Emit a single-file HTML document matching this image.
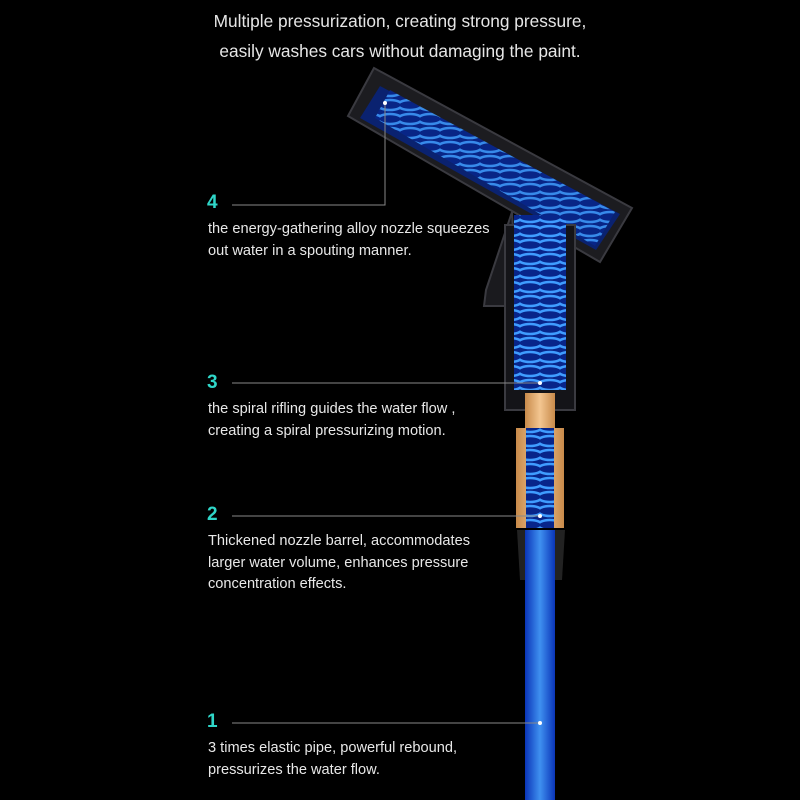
<!DOCTYPE html>
<html><head><style>
body{margin:0;background:#000;width:800px;height:800px;overflow:hidden;position:relative;font-family:"Liberation Sans",sans-serif;color:#eee}
.t{position:absolute;font-size:14.6px;line-height:21.5px;color:#e8e8e8}
.n{position:absolute;font-size:19px;font-weight:bold;color:#2fd6c8}
.h{position:absolute;left:0;width:800px;text-align:center;font-size:17.3px;color:#e6e6e6}
</style></head><body>
<svg width="800" height="800" style="position:absolute;left:0;top:0">
<defs>
<linearGradient id="pipe" x1="0" x2="1"><stop offset="0" stop-color="#0a35b8"/><stop offset=".5" stop-color="#3f90f0"/><stop offset="1" stop-color="#0a35b8"/></linearGradient>
<linearGradient id="brass" x1="0" x2="1"><stop offset="0" stop-color="#c88a4a"/><stop offset=".5" stop-color="#f3c691"/><stop offset="1" stop-color="#c88a4a"/></linearGradient>
<pattern id="coil" width="20" height="14" patternUnits="userSpaceOnUse"><rect width="20" height="14" fill="#08258a"/><ellipse cx="10" cy="7" rx="12" ry="5" fill="none" stroke="#3f9cff" stroke-width="2.5"/></pattern>
</defs>
<polygon points="374,68 632,208 600,262 348,116" fill="#1c1c20" stroke="#3a3a40" stroke-width="2"/>
<polygon points="380,86 620,214 596,250 360,118" fill="#0a2270"/>
<polygon points="390,90 615,212 595,246 375,118" fill="url(#coil)" opacity=".85"/>
<polygon points="512,212 486,290 484,306 508,306 514,248" fill="#1a1a1e" stroke="#3a3a40" stroke-width="2"/>
<rect x="505" y="225" width="70" height="185" fill="#141418" stroke="#3a3a40" stroke-width="2"/>
<rect x="514" y="215" width="52" height="175" fill="url(#coil)"/>
<rect x="525" y="393" width="30" height="35" fill="url(#brass)"/>
<rect x="516" y="428" width="48" height="100" fill="url(#brass)"/>
<rect x="526" y="428" width="28" height="100" fill="url(#coil)"/>
<polygon points="517,530 565,530 562,580 520,580" fill="#222"/>
<rect x="525" y="530" width="30" height="270" fill="url(#pipe)"/>
<g stroke="#888" stroke-width="1" fill="none">
<polyline points="232,205 385,205 385,103"/>
<line x1="232" y1="383" x2="540" y2="383"/>
<line x1="232" y1="516" x2="540" y2="516"/>
<line x1="232" y1="723" x2="540" y2="723"/>
</g>
<g fill="#fff"><circle cx="385" cy="103" r="2"/><circle cx="540" cy="383" r="2"/><circle cx="540" cy="516" r="2"/><circle cx="540" cy="723" r="2"/></g>
</svg>
<div class="h" style="top:11px">Multiple pressurization, creating strong pressure,</div>
<div class="h" style="top:41px">easily washes cars without damaging the paint.</div>
<div class="n" style="left:207px;top:192px">4</div>
<div class="t" style="left:208px;top:219px">the energy-gathering alloy nozzle squeezes<br>out water in a spouting manner.</div>
<div class="n" style="left:207px;top:372px">3</div>
<div class="t" style="left:208px;top:399px">the spiral rifling guides the water flow ,<br>creating a spiral pressurizing motion.</div>
<div class="n" style="left:207px;top:504px">2</div>
<div class="t" style="left:208px;top:531px">Thickened nozzle barrel, accommodates<br>larger water volume, enhances pressure<br>concentration effects.</div>
<div class="n" style="left:207px;top:711px">1</div>
<div class="t" style="left:208px;top:738px">3 times elastic pipe, powerful rebound,<br>pressurizes the water flow.</div>
</body></html>
